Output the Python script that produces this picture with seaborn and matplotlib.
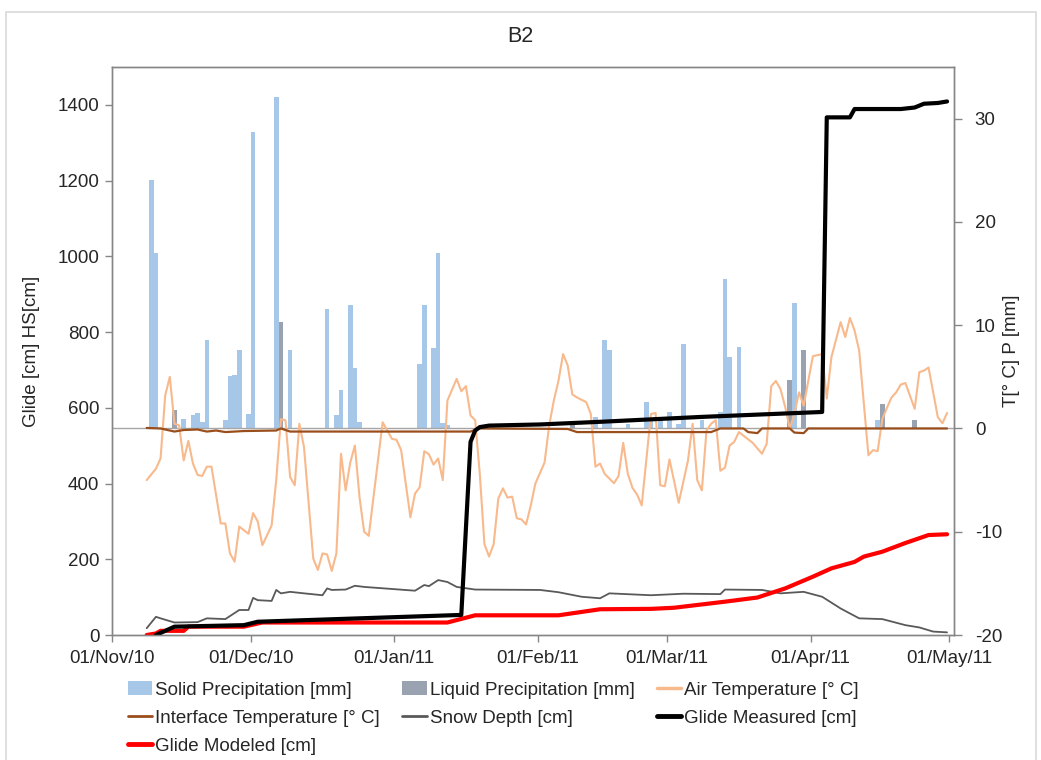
import numpy as np
import pandas as pd
import matplotlib
matplotlib.use("Agg")
import matplotlib.pyplot as plt
import seaborn as sns
from matplotlib.patches import Patch, Rectangle
from matplotlib.lines import Line2D

# ---------------- data (days since 01/Nov/10) ----------------
month_ticks = [0, 30, 61, 92, 120, 151, 181]
month_labels = ["01/Nov/10", "01/Dec/10", "01/Jan/11", "01/Feb/11",
                "01/Mar/11", "01/Apr/11", "01/May/11"]

solid_days = [8, 9, 15, 17, 18, 19, 20, 24, 25, 26, 27, 29, 30, 35, 38, 46, 48, 49,
              51, 52, 53, 66, 67, 69, 70, 71, 72, 104, 106, 107, 111, 115, 116, 118,
              120, 122, 123, 127, 131, 132, 133, 135, 147, 165]
solid_mm = [24.1, 17.0, 0.95, 1.3, 1.5, 0.6, 8.6, 0.8, 5.1, 5.2, 7.55, 1.36, 28.75,
            32.1, 7.55, 11.6, 1.26, 3.77, 12.0, 5.87, 0.65, 6.2, 12.0, 7.8, 17.0,
            0.55, 0.3, 1.1, 8.6, 7.55, 0.45, 2.55, 0.8, 0.7, 1.6, 0.4, 8.2, 0.8,
            1.55, 14.5, 6.9, 7.9, 12.1, 0.85]

liquid_days = [13, 36, 99, 146, 149, 166, 173]
liquid_mm = [1.74, 10.3, 0.4, 4.7, 7.6, 2.4, 0.85]

air_days = [7, 9, 10, 11, 12, 13, 14, 15, 16, 17, 18, 19, 20, 21, 23, 24, 25, 26, 27,
            29, 30, 31, 32, 34, 35, 36, 37, 38, 39, 40, 41, 43, 44, 45, 46, 47, 48,
            49, 50, 51, 52, 53, 54, 55, 58, 60, 61, 62, 64, 65, 66, 67, 68, 69, 70,
            71, 72, 74, 75, 76, 77, 78, 79, 80, 81, 82, 83, 84, 85, 86, 87, 88, 89,
            90, 91, 93, 94, 95, 96, 97, 98, 99, 100, 102, 103, 104, 105, 106, 108,
            109, 110, 111, 112, 113, 114, 116, 117, 118, 119, 120, 122, 124, 125,
            126, 127, 128, 129, 130, 131, 132, 133, 134, 135, 136, 138, 140, 141,
            142, 143, 144, 145, 146, 147, 148, 149, 151, 153, 154, 155, 157, 158,
            159, 160, 161, 163, 164, 165, 166, 167, 168, 169, 170, 171, 173, 174,
            175, 176, 178, 179, 180]
air_T = [-5.0, -3.9, -2.9, 3.2, 5.0, 0.45, 0.3, -3.1, -1.2, -3.4, -4.5, -4.6, -3.7,
         -3.7, -9.2, -9.2, -12.1, -12.9, -9.5, -10.2, -8.2, -9.0, -11.3, -9.4, -5.0,
         0.9, 0.8, -4.7, -5.5, 0.45, -1.8, -12.6, -13.7, -12.1, -12.2, -13.8, -12.1,
         -2.45, -6.0, -3.3, -1.65, -6.65, -10.0, -10.4, 0.6, -1.0, -1.1, -2.1, -8.6,
         -6.3, -5.7, -2.2, -2.5, -3.5, -2.9, -5.0, 2.7, 4.8, 3.6, 4.1, 1.26, 0.8,
         -4.4, -11.2, -12.4, -11.2, -6.8, -5.8, -6.7, -6.6, -8.7, -8.8, -9.3, -7.5,
         -5.35, -3.3, 0.3, 2.7, 4.6, 7.2, 6.1, 3.3, 3.0, 2.55, 1.4, -3.7, -3.4, -4.4,
         -5.3, -4.6, -1.4, -4.4, -5.75, -6.4, -7.45, 1.4, 1.5, -5.5, -5.6, -3.0,
         -7.2, -3.1, 0.45, -5.0, -6.0, -0.2, 0.45, 0.8, -4.1, -3.8, -1.65, -1.3,
         -0.35, -0.7, -1.4, -2.45, -1.5, 4.1, 4.6, 3.8, 2.1, 0.0, 1.4, 3.5, 2.2,
         7.0, 7.2, 2.9, 6.9, 10.3, 8.85, 10.7, 9.5, 7.55, -2.6, -2.1, -2.2, 0.9,
         2.0, 3.0, 3.5, 4.25, 4.4, 1.9, 5.45, 5.6, 5.9, 1.1, 0.5, 1.5]

iface_days = [7, 10, 13, 15, 18, 20, 22, 24, 26, 28, 35, 36, 38, 50, 77, 79, 98, 100,
              129, 131, 136, 137, 139, 140, 146, 147, 149, 150, 180]
iface_T = [0.05, 0.0, -0.3, -0.15, -0.1, -0.3, -0.2, -0.35, -0.3, -0.25, -0.2, 0.0,
           -0.3, -0.3, -0.3, 0.0, -0.05, -0.35, -0.35, 0.0, 0.0, -0.35, -0.45, 0.0,
           0.0, -0.4, -0.45, 0.0, 0.0]

snow_days = [7, 9, 10, 13, 18, 20, 24, 27, 29, 30, 31, 34, 35, 36, 38, 41, 45, 46, 47,
             50, 52, 54, 65, 67, 68, 70, 72, 74, 78, 92, 96, 101, 105, 107, 116, 123,
             131, 132, 140, 144, 149, 153, 157, 161, 166, 171, 174, 177, 180]
snow_cm = [18, 48, 44, 33, 34, 44, 42, 66, 66, 98, 92, 90, 119, 110, 114, 110, 105,
           123, 119, 120, 130, 127, 117, 132, 129, 145, 140, 127, 120, 119, 113, 101,
           97, 110, 105, 109, 108, 120, 119, 110, 114, 101, 70, 44, 42, 26, 20, 9, 7]

meas_days = [9, 13, 28, 31, 75, 77, 78, 79, 81, 92, 105, 127, 153, 154, 159, 160, 170,
             173, 175, 178, 180]
meas_cm = [0, 22, 26, 35, 53, 510, 540, 549, 553, 556, 563, 576, 589, 1367, 1367,
           1389, 1389, 1393, 1403, 1405, 1409]

mod_days = [7, 9, 10, 15, 16, 28, 32, 72, 78, 96, 105, 116, 121, 132, 139, 145, 151,
            155, 160, 162, 166, 171, 176, 180]
mod_cm = [0, 4, 11, 11, 22, 22, 33, 33, 52, 52, 68, 69, 72, 88, 99, 123, 154, 176,
          193, 207, 220, 243, 264, 266]

# ---------------- styling ----------------
C_SOLID = "#a7c7e8"
C_LIQ = "#98a2b0"
C_AIR = "#f8b98c"
C_IFACE = "#9a4e1c"
C_SNOW = "#595959"
C_MEAS = "#000000"
C_MOD = "#ff0000"
C_SPINE = "#868686"
BAR_W = 1.0

sns.set_style("white")
plt.rcParams['font.family'] = ['Liberation Sans', 'DejaVu Sans']
plt.rcParams['axes.unicode_minus'] = False
FS = 13.5

W, H = 1041, 760
fig = plt.figure(figsize=(W / 100, H / 100), dpi=100)
ax = fig.add_axes([112 / W, 1 - 635 / H, (954 - 112) / W, (635 - 67) / H])
ax2 = ax.twinx()

# bars (right axis)
bars = pd.DataFrame({
    "day": np.concatenate([np.array(solid_days), np.array(liquid_days)]) + 0.5,
    "mm": np.concatenate([solid_mm, liquid_mm]),
    "kind": ["Solid"] * len(solid_days) + ["Liquid"] * len(liquid_days),
})
sns.barplot(data=bars, x="day", y="mm", hue="kind", dodge=False, native_scale=True,
            width=BAR_W, palette={"Solid": C_SOLID, "Liquid": C_LIQ}, saturation=1,
            errorbar=None, legend=False, ax=ax2, linewidth=0)
# keep every bar one day wide, centred on its day
for p in ax2.patches:
    c = p.get_x() + p.get_width() / 2
    p.set_width(BAR_W)
    p.set_x(c - BAR_W / 2)
    p.set_antialiased(False)

ax2.axhline(0, color="#a6a6a6", lw=1.0, zorder=1)

sns.lineplot(x=np.array(air_days) + 0.5, y=air_T, ax=ax2, color=C_AIR, lw=1.5,
             estimator=None, sort=False)
sns.lineplot(x=np.array(iface_days) + 0.5, y=iface_T, ax=ax2, color=C_IFACE, lw=1.6,
             estimator=None, sort=False)

# lines (left axis)
sns.lineplot(x=np.array(snow_days) + 0.5, y=snow_cm, ax=ax, color=C_SNOW, lw=1.3,
             estimator=None, sort=False)
sns.lineplot(x=np.array(mod_days) + 0.5, y=mod_cm, ax=ax, color=C_MOD, lw=3.0,
             estimator=None, sort=False)
sns.lineplot(x=np.array(meas_days) + 0.5, y=meas_cm, ax=ax, color=C_MEAS, lw=3.0,
             estimator=None, sort=False)

ax.set_zorder(ax2.get_zorder() + 1)
ax.patch.set_visible(False)

# axes limits / ticks
ax.set_xlim(0, 182)
ax.set_ylim(0, 1500)
ax2.set_ylim(-20, 35)
ax.set_yticks(np.arange(0, 1401, 200))
ax2.set_yticks(np.arange(-20, 31, 10))
ax.set_xticks(month_ticks)
ax.set_xticklabels(month_labels)

for a in (ax, ax2):
    for s in a.spines.values():
        s.set_color(C_SPINE)
        s.set_linewidth(1.0)
ax.tick_params(axis="y", direction="out", length=5, width=1, color=C_SPINE,
               labelsize=FS, pad=4, left=True)
ax.tick_params(axis="x", direction="out", length=5, width=1, color=C_SPINE,
               labelsize=FS, pad=6, bottom=True)
ax2.tick_params(axis="y", direction="out", length=6, width=1, color=C_SPINE,
                labelsize=FS, pad=9, right=True)

ax.set_xlabel("")
ax2.set_xlabel("")
ax.set_ylabel("Glide [cm] HS[cm]", fontsize=FS)
ax2.set_ylabel("T[° C] P [mm]", fontsize=FS)
ax.yaxis.set_label_coords((40 - 112) / 842, 0.5)
ax2.yaxis.set_label_coords((1003 - 112) / 842, 0.5)

fig.text(0.5, 1 - 37 / H, "B2", ha="center", va="center", fontsize=FS + 2)

# legend
handles = [
    Patch(facecolor=C_SOLID, edgecolor="none"),
    Line2D([], [], color=C_IFACE, lw=2),
    Line2D([], [], color=C_MOD, lw=3.5),
    Patch(facecolor=C_LIQ, edgecolor="none"),
    Line2D([], [], color=C_SNOW, lw=2),
    Line2D([], [], color=C_AIR, lw=2.5),
    Line2D([], [], color=C_MEAS, lw=3.5),
]
labels = ["Solid Precipitation [mm]", "Interface Temperature [° C]", "Glide Modeled [cm]",
          "Liquid Precipitation [mm]", "Snow Depth [cm]", "Air Temperature [° C]",
          "Glide Measured [cm]"]
fig.legend(handles, labels, loc="upper left", bbox_to_anchor=(128 / W, 1 - 681 / H),
           ncol=3, frameon=False, fontsize=FS, handlelength=1.3, handleheight=0.8,
           handletextpad=0.15, columnspacing=1.2, labelspacing=0.55, borderpad=0,
           borderaxespad=0)

# outer chart border
fig.patches.append(Rectangle((6 / W, -0.02), (1036 - 6) / W, 1.02 - 12 / H,
                             transform=fig.transFigure, fill=False,
                             edgecolor="#d9d9d9", lw=1.2))

fig.savefig("out.png", dpi=100)
